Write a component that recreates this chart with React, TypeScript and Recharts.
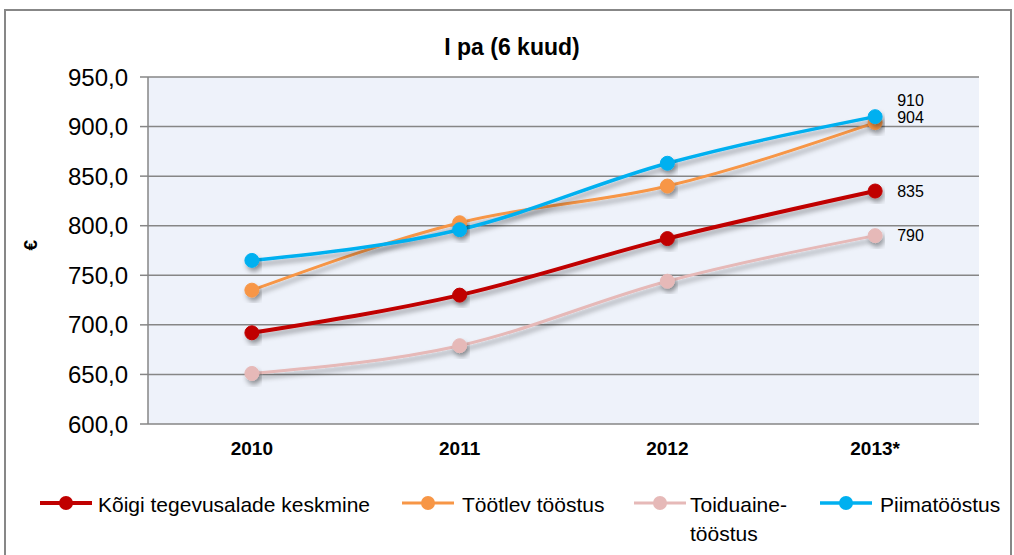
import { CartesianGrid, LabelList, Line, LineChart, XAxis, YAxis } from "recharts";

const years = ["2010", "2011", "2012", "2013*"];
const koigi = [692, 730, 787, 835];
const tootlev = [735, 803, 840, 904];
const toiduaine = [651, 679, 744, 790];
const piima = [765, 796, 863, 910];
const yTicks = [600, 650, 700, 750, 800, 850, 900, 950];
const boundaryTicks = [0, 1, 2, 3, 4];

const series = [
  { key: "koigi", name: "Kõigi tegevusalade keskmine", color: "#C00000", width: 4, values: koigi, labelDy: 0 },
  { key: "tootlev", name: "Töötlev tööstus", color: "#F79646", width: 3, values: tootlev, labelDy: -5 },
  { key: "toiduaine", name: "Toiduaine-\ntööstus", color: "#E6B9B8", width: 3, values: toiduaine, labelDy: 0 },
  { key: "piima", name: "Piimatööstus", color: "#00B0F0", width: 3.5, values: piima, labelDy: -16 },
];

const data = years.map((y, i) => {
  const row: any = { year: y, pos: i + 0.5 };
  series.forEach((s) => (row[s.key] = s.values[i]));
  return row;
});

const FONT = "'Liberation Sans', Arial, sans-serif";

// only the last point gets a value label, to the right of the dot
const lastLabel = (dy: number) => (props: any) => {
  const { x, y, value, index } = props;
  if (index !== years.length - 1) return null;
  return (
    <text x={x + 22} y={y + dy} dy="0.35em" fontSize={16} fontFamily={FONT} fill="#000">
      {value}
    </text>
  );
};

const legendPos = [
  { line: 40, text: 98 },
  { line: 402, text: 462 },
  { line: 634, text: 690 },
  { line: 820, text: 880 },
];

export default function App() {
  return (
    <div style={{ position: "absolute", left: 0, top: 0, width: 1014, height: 555, background: "#fff", overflow: "hidden", fontFamily: FONT }}>
      <div style={{ position: "absolute", left: 4, top: 9, width: 1004, height: 560, border: "2px solid #878787", borderBottom: "none" }} />
      <div style={{ position: "absolute", left: 0, top: 34, width: 1024, textAlign: "center", fontSize: 23, fontWeight: "bold" }}>
        I pa (6 kuud)
      </div>
      <div style={{ position: "absolute", left: 0, top: 0 }}>
        <LineChart width={1014} height={555} data={data} margin={{ top: 77, right: 35, left: 0, bottom: 91 }}>
          <defs>
            <filter id="shadow" x="-20%" y="-20%" width="140%" height="160%">
              <feDropShadow dx="2" dy="4" stdDeviation="2.5" floodColor="#000" floodOpacity="0.35" />
            </filter>
          </defs>
          <CartesianGrid vertical={false} stroke="#868686" strokeWidth={1.5} fill="#EEF2FA" />
          <XAxis
            xAxisId="b"
            dataKey="pos"
            type="number"
            domain={[0, 4]}
            ticks={boundaryTicks}
            allowDataOverflow
            height={0}
            tickSize={6}
            tickFormatter={() => ""}
            stroke="#868686"
            strokeWidth={1.5}
          />
          <XAxis
            dataKey="year"
            padding={{ left: 103.875, right: 103.875 }}
            axisLine={false}
            tickLine={false}
            height={40}
            tickMargin={12}
            tick={{ fontSize: 19, fontWeight: "bold", fill: "#000", fontFamily: FONT }}
          />
          <YAxis
            width={148}
            domain={[600, 950]}
            ticks={yTicks}
            interval={0}
            tickSize={8}
            tickMargin={12}
            stroke="#868686"
            strokeWidth={1.5}
            tickFormatter={(v: number) => v.toFixed(1).replace(".", ",")}
            tick={{ fontSize: 24, fill: "#000", fontFamily: FONT }}
            label={{ value: "€", angle: -90, position: "insideLeft", offset: 30, style: { fontSize: 19, fontWeight: "bold", fill: "#000", fontFamily: FONT } }}
          />
          {series.map((s) => (
            <Line
              key={s.key}
              dataKey={s.key}
              type="monotone"
              stroke={s.color}
              strokeWidth={s.width}
              filter="url(#shadow)"
              dot={{ r: 7, fill: s.color, stroke: s.color, strokeWidth: 1, filter: "url(#shadow)" }}
              activeDot={false}
              isAnimationActive={false}
            >
              <LabelList dataKey={s.key} content={lastLabel(s.labelDy)} />
            </Line>
          ))}
        </LineChart>
      </div>
      {series.map((s, i) => (
        <div key={s.key}>
          <svg style={{ position: "absolute", left: legendPos[i].line, top: 493 }} width={52} height={20}>
            <line x1={0} y1={10} x2={52} y2={10} stroke={s.color} strokeWidth={s.width} />
            <circle cx={26} cy={10} r={7} fill={s.color} />
          </svg>
          <div style={{ position: "absolute", left: legendPos[i].text, top: 490, fontSize: 21, lineHeight: "29px", whiteSpace: "pre", color: "#000" }}>
            {s.name}
          </div>
        </div>
      ))}
    </div>
  );
}
